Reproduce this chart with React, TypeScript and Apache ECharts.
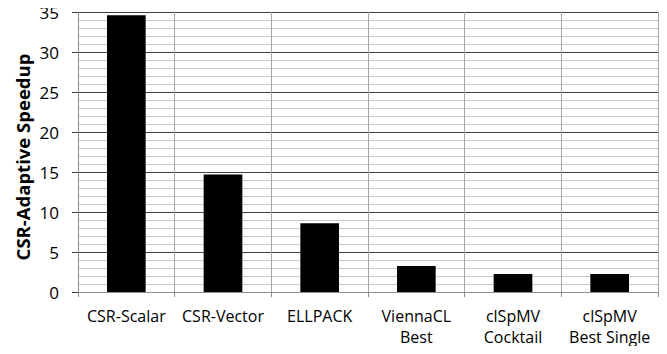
import React, { useEffect, useRef } from "react";
import * as echarts from "echarts";

const categories = ["CSR-Scalar", "CSR-Vector", "ELLPACK", "ViennaCL\nBest", "clSpMV\nCocktail", "clSpMV\nBest Single"];
const speedups = [34.6, 14.7, 8.6, 3.25, 2.25, 2.25];
const yTicks = { min: 0, max: 35, interval: 5 };
const yTitle = "CSR-Adaptive Speedup";

export default function App() {
  const ref = useRef<HTMLDivElement>(null);
  useEffect(() => {
    const chart = echarts.init(ref.current!, null, { renderer: "svg" });
    const font = "'Open Sans', Carlito, Calibri, sans-serif";
    chart.setOption({
      animation: false,
      backgroundColor: "#ffffff",
      grid: { left: 78, right: 9, top: 12, bottom: 62, containLabel: false },
      graphic: [
        {
          type: "text",
          x: 22,
          y: 157,
          rotation: Math.PI / 2,
          style: {
            text: yTitle,
            fill: "#000",
            font: `bold 18.5px ${font}`,
            textAlign: "center",
            textVerticalAlign: "middle",
          },
        },
      ],
      xAxis: {
        type: "category",
        data: categories,
        boundaryGap: true,
        axisLine: { show: true, lineStyle: { color: "#8c8c8c", width: 1 } },
        axisTick: { show: true, alignWithLabel: false, length: 5, lineStyle: { color: "#8c8c8c" } },
        axisLabel: { color: "#000", fontFamily: font, fontSize: 16, margin: 13, lineHeight: 21, interval: 0 },
        splitLine: { show: true, interval: 0, lineStyle: { color: "#a6a6a6", width: 1 } },
      },
      yAxis: {
        type: "value",
        min: yTicks.min,
        max: yTicks.max,
        interval: yTicks.interval,
        axisLine: { show: true, lineStyle: { color: "#8c8c8c", width: 1 } },
        axisTick: { show: true, length: 6, lineStyle: { color: "#404040" } },
        axisLabel: { color: "#000", fontFamily: font, fontSize: 17, margin: 19 },
        splitLine: { show: true, lineStyle: { color: "#404040", width: 1 } },
        minorTick: { show: false, splitNumber: 5 },
        minorSplitLine: { show: true, lineStyle: { color: "#c8c8c8", width: 1 } },
      },
      series: [
        {
          type: "bar",
          data: speedups,
          barWidth: "40%",
          itemStyle: { color: "#000000" },
        },
      ],
    });
    return () => chart.dispose();
  }, []);
  return <div ref={ref} style={{ width: 667, height: 354, margin: -8 }} />;
}
